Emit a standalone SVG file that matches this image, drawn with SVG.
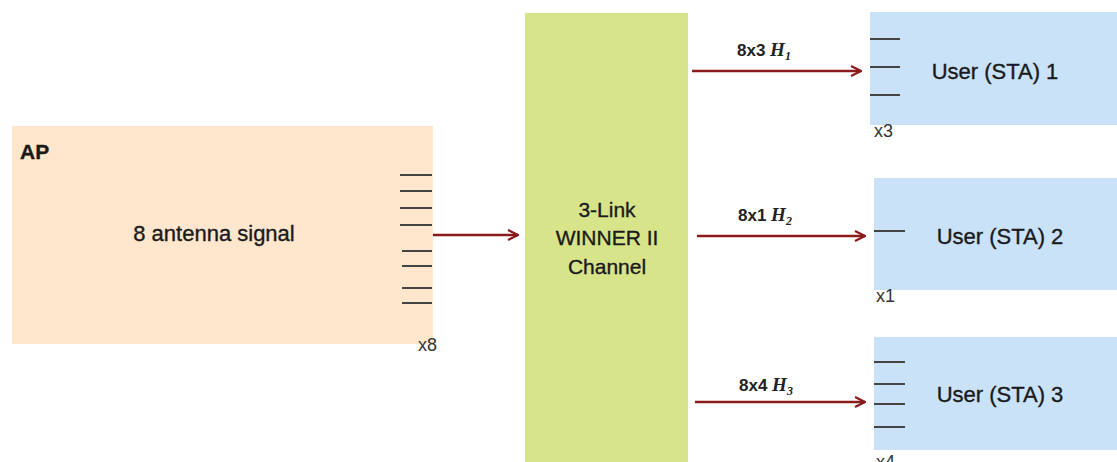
<svg xmlns="http://www.w3.org/2000/svg" width="1117" height="462" viewBox="0 0 1117 462">
<defs>
<marker id="arr" viewBox="0 0 12 12" refX="11" refY="6" markerWidth="12" markerHeight="12" markerUnits="userSpaceOnUse" orient="auto">
<path d="M1,1 L11,6 L1,11" fill="none" stroke="#8b1a1a" stroke-width="2.2"/>
</marker>
</defs>
<style>
.t{font-family:"Liberation Sans",Arial,sans-serif;fill:#1a1a1a;stroke:#1a1a1a;stroke-width:0.35;}
.lbl{font-family:"Liberation Sans",Arial,sans-serif;font-weight:bold;font-size:17px;fill:#222;}
.m{font-family:"Liberation Serif","Times New Roman",serif;font-style:italic;font-weight:bold;}
.ant{stroke:#444;stroke-width:2;}
.cnt{font-family:"Liberation Sans",Arial,sans-serif;font-size:18px;fill:#333;}
.edge{stroke:#8b1a1a;stroke-width:2.5;fill:none;marker-end:url(#arr);}
</style>
<rect width="1117" height="462" fill="#ffffff"/>
<g id="ap">
<rect x="12" y="126" width="421" height="218" fill="#ffe6cc"/>
<text class="t" x="20" y="159" font-size="21" font-weight="bold">AP</text>
<text class="t" x="214" y="241" font-size="22" text-anchor="middle">8 antenna signal</text>
<line class="ant" x1="400" y1="175" x2="432" y2="175"/>
<line class="ant" x1="400" y1="191" x2="432" y2="191"/>
<line class="ant" x1="400" y1="208" x2="432" y2="208"/>
<line class="ant" x1="400" y1="225" x2="432" y2="225"/>
<line class="ant" x1="402" y1="251" x2="432" y2="251"/>
<line class="ant" x1="402" y1="266" x2="432" y2="266"/>
<line class="ant" x1="402" y1="288" x2="432" y2="288"/>
<line class="ant" x1="402" y1="303" x2="432" y2="303"/>
<text class="cnt" x="418" y="351">x8</text>
</g>
<g id="channel">
<rect x="525" y="13" width="163" height="449" fill="#d8e48a"/>
<text class="t" x="607" y="217" font-size="21" text-anchor="middle">3-Link</text>
<text class="t" x="607" y="245" font-size="21" text-anchor="middle">WINNER II</text>
<text class="t" x="607" y="274" font-size="21" text-anchor="middle">Channel</text>
</g>
<g id="user1">
<rect x="870" y="12" width="247" height="113" fill="#c9e2f8"/>
<line class="ant" x1="870" y1="39" x2="900" y2="39"/>
<line class="ant" x1="870" y1="67" x2="900" y2="67"/>
<line class="ant" x1="870" y1="95" x2="900" y2="95"/>
<text class="cnt" x="874" y="137">x3</text>
<text class="t" x="995" y="79" font-size="22" text-anchor="middle">User (STA) 1</text>
</g>
<g id="user2">
<rect x="874" y="178" width="243" height="112" fill="#c9e2f8"/>
<line class="ant" x1="874" y1="231" x2="905" y2="231"/>
<text class="cnt" x="876" y="302">x1</text>
<text class="t" x="1000" y="244" font-size="22" text-anchor="middle">User (STA) 2</text>
</g>
<g id="user3">
<rect x="874" y="337" width="243" height="113" fill="#c9e2f8"/>
<line class="ant" x1="874" y1="362" x2="905" y2="362"/>
<line class="ant" x1="874" y1="384" x2="905" y2="384"/>
<line class="ant" x1="874" y1="404" x2="905" y2="404"/>
<line class="ant" x1="874" y1="427" x2="905" y2="427"/>
<text class="cnt" x="876" y="468">x4</text>
<text class="t" x="1000" y="402" font-size="22" text-anchor="middle">User (STA) 3</text>
</g>
<g id="connectors">
<line class="edge" x1="433" y1="235" x2="518" y2="235"/>
<line class="edge" x1="692" y1="71" x2="861" y2="71"/>
<line class="edge" x1="697" y1="236" x2="865" y2="236"/>
<line class="edge" x1="695" y1="402" x2="865" y2="402"/>
<text class="lbl" x="737" y="56">8x3 <tspan class="m" font-size="19">H</tspan><tspan class="m" font-size="12" dy="4">1</tspan></text>
<text class="lbl" x="738" y="221">8x1 <tspan class="m" font-size="19">H</tspan><tspan class="m" font-size="12" dy="4">2</tspan></text>
<text class="lbl" x="739" y="391">8x4 <tspan class="m" font-size="19">H</tspan><tspan class="m" font-size="12" dy="4">3</tspan></text>
</g>
</svg>
